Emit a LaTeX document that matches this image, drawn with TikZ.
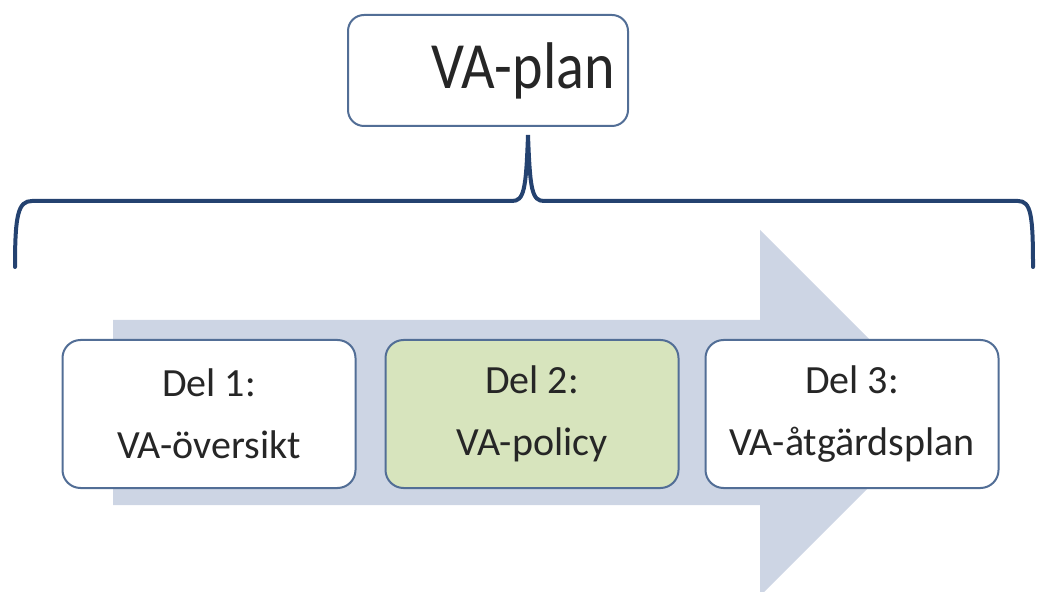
\documentclass[tikz,border=0pt]{standalone}
\usepackage{fontspec}
\setmainfont{Carlito}
\usepackage{tikz}
\usetikzlibrary{positioning}

\definecolor{bracecol}{RGB}{36,66,112}
\definecolor{boxline}{RGB}{82,110,150}
\definecolor{arrowfill}{RGB}{205,213,228}
\definecolor{policyfill}{RGB}{215,228,189}

\begin{document}
\begin{tikzpicture}[x=0.5pt, y=-0.5pt,
    part/.style={draw=boxline, line width=1pt, rounded corners=9pt, fill=white,
        minimum width=146.5pt, minimum height=74pt, align=center,
        font=\fontsize{20}{31}\selectfont, text=black!85},
    title/.style={part, minimum width=140pt, minimum height=55.5pt,
        rounded corners=8pt, font=\fontsize{33}{36}\selectfont}]

    \clip (0,0) rectangle (1037,592);

    % Background arrow
    \fill[arrowfill] (113,320) -- (760,320) -- (760,230) -- (943,413)
        -- (760,596) -- (760,505) -- (113,505) -- cycle;

    % Nodes

    \node[title]                           (plan)   at (488,70.5) {\hspace*{35pt}\scalebox{0.88}[1]{VA-plan}}; %
    \node[part]                            (del1)   at (209,414) {Del 1:\\VA-översikt}; %
    \node[part, fill=policyfill, right=14pt of del1] (del2) {Del 2:\\VA-policy}; %
    \node[part, right=12.5pt of del2]      (del3)   {Del 3:\\VA-åtgärdsplan}; %

    % Brace
    \draw[bracecol, line width=2pt, line cap=round]
        (15,267) .. controls (15,215) and (18,201) .. (32,201) -- (512,201)
        .. controls (524,201) and (526,190) .. (528,135)
        .. controls (530,190) and (532,201) .. (544,201) -- (1018,201)
        .. controls (1031,201) and (1033,215) .. (1033,267);

\end{tikzpicture}
\end{document}
